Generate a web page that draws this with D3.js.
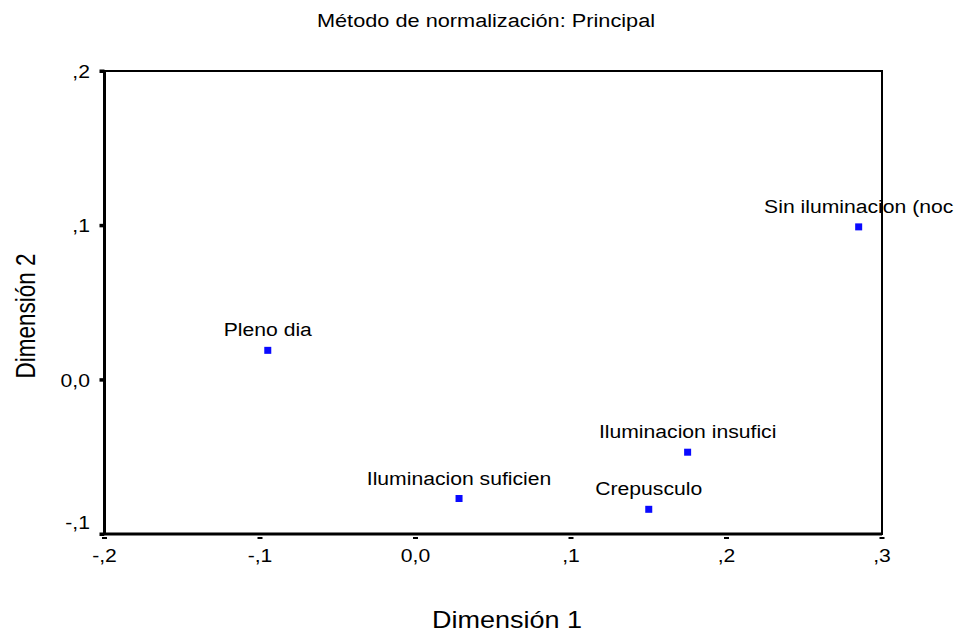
<!DOCTYPE html>
<html><head><meta charset="utf-8">
<script src="https://cdn.jsdelivr.net/npm/d3@7"></script>
<style>body{margin:0;background:#fff;} svg{display:block;font-family:"Liberation Sans",Arial,sans-serif;}</style>
</head><body>
<svg id="c" width="957" height="643"></svg>
<script>
const categories = ["Pleno dia", "Iluminacion suficien", "Crepusculo", "Iluminacion insufici", "Sin iluminacion (noc"];
const dim1 = [-0.095, 0.028, 0.150, 0.175, 0.285];
const dim2 = [0.019, -0.077, -0.084, -0.047, 0.099];
const xTicks = [-0.2, -0.1, 0.0, 0.1, 0.2, 0.3];
const xTickLabels = ["-,2", "-,1", "0,0", ",1", ",2", ",3"];
const yTicks = [0.2, 0.1, 0.0, -0.1];
const yTickLabels = [",2", ",1", "0,0", "-,1"];
const title = "Método de normalización: Principal";
const xTitle = "Dimensión 1";
const yTitle = "Dimensión 2";

const SX = 1.15; // horizontal glyph stretch seen in the reference
const svg = d3.select("#c");
const L = 104.5, R = 882, T = 71, B = 534;
const x = d3.scaleLinear().domain([-0.2, 0.3]).range([L, R]);
const y = d3.scaleLinear().domain([-0.1, 0.2]).range([B, T]);

function txt(g, s, px, py, size, anchor, rot, sx) {
  return g.append("text")
    .attr("transform", `translate(${px},${py}) scale(${sx || SX},1)` + (rot ? ` rotate(${rot})` : ""))
    .attr("text-anchor", anchor).attr("font-size", size).attr("fill", "#000").text(s);
}

// title
txt(svg, title, 486, 27, 18.9, "middle");

// frame
svg.append("rect").attr("x", L).attr("y", T).attr("width", R - L).attr("height", B - T)
  .attr("fill", "none").attr("stroke", "#000").attr("stroke-width", 2);
svg.append("line").attr("x1", L).attr("x2", L).attr("y1", T).attr("y2", B).attr("stroke", "#000").attr("stroke-width", 3);
svg.append("line").attr("x1", L).attr("x2", R).attr("y1", B).attr("y2", B).attr("stroke", "#000").attr("stroke-width", 3);

// x axis (labels via d3 axis, custom dash ticks)
const xa = svg.append("g").attr("transform", `translate(0,${B})`)
  .call(d3.axisBottom(x).tickValues(xTicks).tickSize(0).tickFormat((d, i) => xTickLabels[i]));
xa.select(".domain").remove();
xa.selectAll("text").remove();
xTicks.forEach((v, i) => {
  svg.append("rect").attr("x", x(v) - 2.5).attr("y", B + 3).attr("width", 5).attr("height", 2).attr("fill", "#000");
  txt(svg, xTickLabels[i], x(v), 562, 18.4, "middle");
});

// y axis
const ya = svg.append("g").attr("transform", `translate(${L},0)`)
  .call(d3.axisLeft(y).tickValues(yTicks).tickSize(0).tickFormat((d, i) => yTickLabels[i]));
ya.select(".domain").remove();
ya.selectAll("text").remove();
yTicks.forEach((v, i) => {
  svg.append("rect").attr("x", L - 5).attr("y", y(v) - 1.5).attr("width", 5).attr("height", 3.5).attr("fill", "#000");
  const yy = y(v) + 7 - (i === yTicks.length - 1 ? 12 : 0);
  txt(svg, yTickLabels[i], 90, yy, 18.4, "end");
});

// axis titles
txt(svg, xTitle, 507, 628, 23.5, "middle");
txt(svg, yTitle, 35, 316, 22.5, "middle", -90, 1.2);

// points
const pts = svg.append("g");
categories.forEach((c, i) => {
  const px = x(dim1[i]), py = y(dim2[i]);
  pts.append("rect").attr("x", px - 3.5).attr("y", py - 3.5).attr("width", 7).attr("height", 7).attr("fill", "#0a0aff");
  txt(pts, c, px, py - 14, 18.4, "middle");
});
</script>
</body></html>
